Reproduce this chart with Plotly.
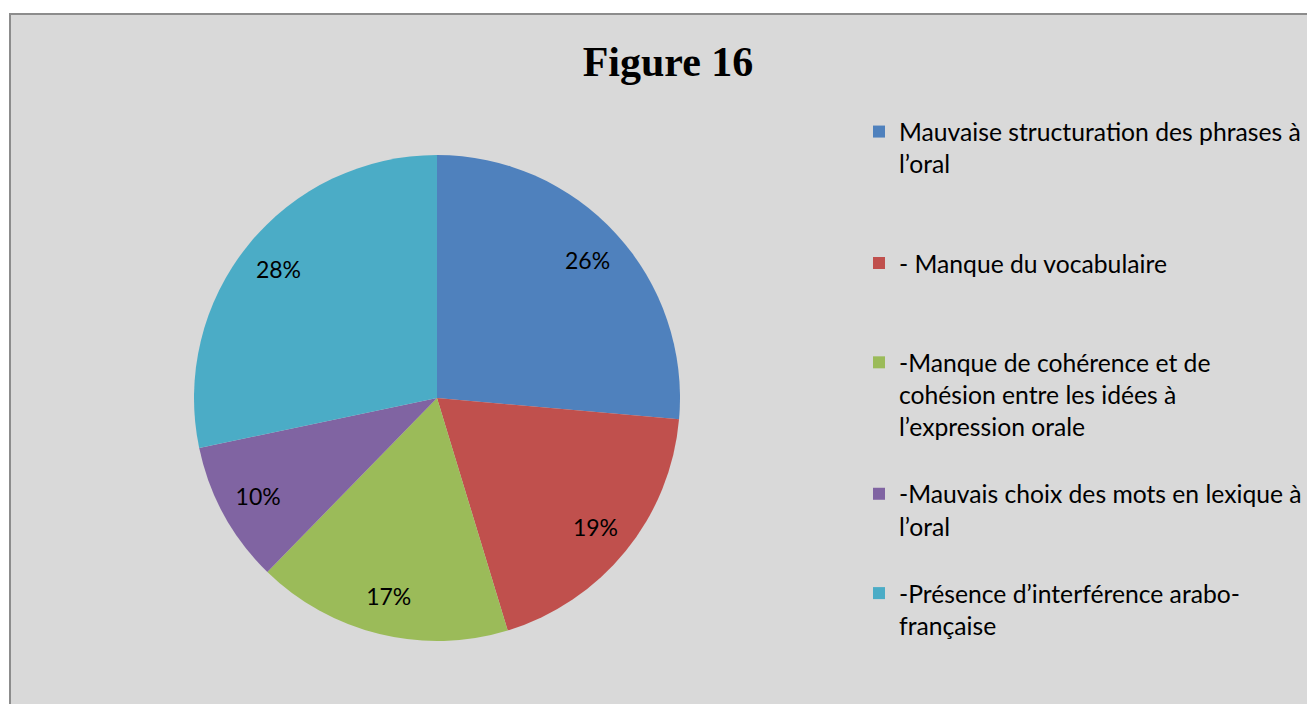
import plotly.graph_objects as go

labels = [
    "Mauvaise structuration des phrases à<br>l’oral<br> <br> ",
    "- Manque du vocabulaire<br> <br> ",
    "-Manque de cohérence et de<br>cohésion entre les idées à<br>l’expression orale<br> ",
    "-Mauvais choix des mots en lexique à<br>l’oral<br> ",
    "-Présence d’interférence arabo-<br>française",
]
# slice shares as measured from the slice angles, and the labels printed on them
values = [26.4, 18.9, 17.0, 9.4, 28.3]
pct_labels = ["26%", "19%", "17%", "10%", "28%"]
colors = ["#4F81BD", "#C0504D", "#9BBB59", "#8064A2", "#4BACC6"]

W, H = 1315, 704
# page body has an 8px margin, so positions below are page pixels minus 8
cx, cy, R = 429, 390, 243
pie_domain = dict(x=[(cx - R) / W, (cx + R) / W], y=[1 - (cy + R) / H, 1 - (cy - R) / H])

fig = go.Figure()
# coloured slices + legend
fig.add_trace(go.Pie(
    labels=labels,
    values=values,
    sort=False,
    direction="clockwise",
    rotation=0,
    marker=dict(colors=colors, line=dict(width=0)),
    textinfo="none",
    hovertext=pct_labels,
    hoverinfo="label+text",
    domain=pie_domain,
))
# transparent ring on top, only to push the % labels outwards like Excel does
fig.add_trace(go.Pie(
    labels=labels,
    values=values,
    text=pct_labels,
    sort=False,
    direction="clockwise",
    rotation=0,
    hole=0.68,
    marker=dict(colors=["rgba(0,0,0,0)"] * len(values), line=dict(width=0)),
    texttemplate="%{text}",
    textposition="inside",
    insidetextorientation="horizontal",
    textfont=dict(family="Lato", size=23, color="black"),
    hoverinfo="skip",
    showlegend=False,
    domain=pie_domain,
))

# gray chart area with border on left/top
fig.add_shape(type="rect", xref="paper", yref="paper",
              x0=2 / W, x1=1.05, y0=-0.05, y1=1 - 6 / H,
              fillcolor="#D9D9D9", line=dict(color="#8C8C8C", width=2), layer="below")

fig.update_layout(
    width=W, height=H,
    margin=dict(l=0, r=0, t=0, b=0),
    paper_bgcolor="white",
    plot_bgcolor="white",
    title=dict(text="<b>Figure 16</b>", x=660 / W, xanchor="center", y=1 - 53 / H, yanchor="middle",
               font=dict(family="Liberation Serif", size=42, color="black")),
    legend=dict(x=851 / W, y=1 - 101 / H, xanchor="left", yanchor="top", valign="top",
                font=dict(family="Lato", size=24.7, color="black"),
                bgcolor="rgba(0,0,0,0)", traceorder="normal"),
    showlegend=True,
)

fig.write_html("out.html")
